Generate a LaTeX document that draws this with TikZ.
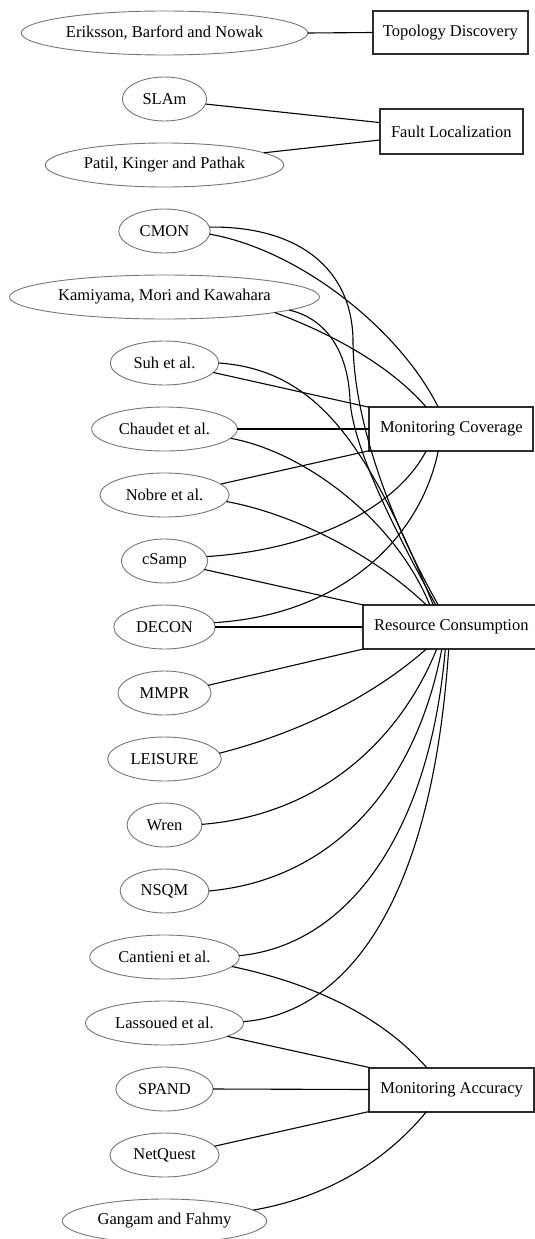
\documentclass[tikz,border=0pt]{standalone}
\usepackage{fontspec}
\setmainfont{Liberation Serif}
\usetikzlibrary{shapes.geometric}
\definecolor{ellgray}{RGB}{118,118,118}
\definecolor{boxgray}{RGB}{45,45,45}
\begin{document}
\begin{tikzpicture}[x=1pt,y=-1pt,
  lbl/.style={font=\fontsize{16.5}{19}\selectfont},
  ell/.style={ellipse, draw=ellgray, line width=0.9pt, minimum height=44pt, inner sep=0pt, outer sep=0pt, lbl},
  box/.style={rectangle, draw=boxgray, line width=2pt, minimum height=44pt, inner sep=0pt, outer sep=0pt, lbl},
  edge/.style={draw=black, line width=1.1pt}]
\useasboundingbox (0,0) rectangle (535,1239);
\clip (0,0) rectangle (535,1239);
% ellipses
\node[ell, minimum width=286.6pt] (eri) at (164.5,33) {\makebox[0pt]{Eriksson, Barford and Nowak}};
\node[ell, minimum width=84.3pt] (slam) at (164.5,99) {\makebox[0pt]{SLAm}};
\node[ell, minimum width=238.5pt] (patil) at (164.5,165) {\makebox[0pt]{Patil, Kinger and Pathak}};
\node[ell, minimum width=91.4pt] (cmon) at (164.5,231) {\makebox[0pt]{CMON}};
\node[ell, minimum width=310pt] (kam) at (164.5,297) {\makebox[0pt]{Kamiyama, Mori and Kawahara}};
\node[ell, minimum width=108.5pt] (suh) at (164.5,363) {\makebox[0pt]{Suh et al.}};
\node[ell, minimum width=145.7pt] (chau) at (164.5,429) {\makebox[0pt]{Chaudet et al.}};
\node[ell, minimum width=129.3pt] (nobre) at (164.5,495) {\makebox[0pt]{Nobre et al.}};
\node[ell, minimum width=86.3pt] (csamp) at (164.5,561) {\makebox[0pt]{cSamp}};
\node[ell, minimum width=101.3pt] (decon) at (164.5,627) {\makebox[0pt]{DECON}};
\node[ell, minimum width=93.1pt] (mmpr) at (164.5,693) {\makebox[0pt]{MMPR}};
\node[ell, minimum width=113.6pt] (leis) at (164.5,759) {\makebox[0pt]{LEISURE}};
\node[ell, minimum width=74.7pt] (wren) at (164.5,825) {\makebox[0pt]{Wren}};
\node[ell, minimum width=88.7pt] (nsqm) at (164.5,891) {\makebox[0pt]{NSQM}};
\node[ell, minimum width=149.5pt] (cant) at (164.5,957) {\makebox[0pt]{Cantieni et al.}};
\node[ell, minimum width=158pt] (lass) at (164.5,1023) {\makebox[0pt]{Lassoued et al.}};
\node[ell, minimum width=97.2pt] (spand) at (164.5,1089) {\makebox[0pt]{SPAND}};
\node[ell, minimum width=109.1pt] (netq) at (164.5,1155) {\makebox[0pt]{NetQuest}};
\node[ell, minimum width=204.4pt] (gang) at (164.5,1221) {\makebox[0pt]{Gangam and Fahmy}};
% boxes
\node[box, minimum width=155.3pt, minimum height=43.6pt] (td) at (450.3,32.5) {\makebox[0pt]{Topology Discovery}};
\node[box, minimum width=142.7pt, minimum height=44.7pt] (fl) at (451.3,131.6) {\makebox[0pt]{Fault Localization}};
\node[box, minimum width=164pt, minimum height=43.4pt] (mc) at (451.3,429) {\makebox[0pt]{Monitoring Coverage}};
\node[box, minimum width=176pt] (rc) at (451.3,627) {\makebox[0pt]{Resource Consumption}};
\node[box, minimum width=164.7pt] (ma) at (451.6,1089.5) {\makebox[0pt]{Monitoring Accuracy}};
% edges: topology / fault
\draw[edge] (eri.east) -- (td.west);
\draw[edge] (slam.-7) -- ([yshift=9pt]fl.west);
\draw[edge] (patil.7) -- ([yshift=-8.4pt]fl.west);
% monitoring coverage
\draw[edge] (cmon.-4) .. controls (300,250) and (400,330) .. ([xshift=-13pt]mc.north);
\draw[edge] (kam.-8.5) .. controls (330,333) and (390,365) .. ([xshift=-25pt]mc.north);
\draw[edge] (suh.-11) -- (mc.north west);
\draw[edge] (chau.east) -- (mc.west);
\draw[edge] (nobre.11.5) -- (mc.south west);
\draw[edge] (csamp.6) .. controls (310,550) and (395,510) .. ([xshift=-25pt]mc.south);
\draw[edge] (decon.5) .. controls (340,615) and (420,540) .. ([xshift=-13pt]mc.south);
% resource consumption
\draw[edge] (cmon.5) .. controls (300,226) and (352,270) .. (353,340) .. controls (353,420) and (390,520) .. ([xshift=-13pt]rc.north);
\draw[edge] (kam.-6) .. controls (325,318) and (348,350) .. (350,400) .. controls (353,450) and (400,540) .. ([xshift=-15.5pt]rc.north);
\draw[edge] (suh.0) .. controls (320,370) and (370,450) .. ([xshift=-18pt]rc.north);
\draw[edge] (chau.-8) .. controls (305,452) and (395,520) .. ([xshift=-21.5pt]rc.north);
\draw[edge] (nobre.-6) .. controls (300,515) and (380,560) .. ([xshift=-25pt]rc.north);
\draw[edge] (csamp.-12) -- (rc.north west);
\draw[edge] (decon.east) -- (rc.west);
\draw[edge] (mmpr.10) -- (rc.south west);
\draw[edge] (leis.6) .. controls (310,730) and (380,690) .. ([xshift=-25pt]rc.south);
\draw[edge] (wren.1) .. controls (320,815) and (400,740) .. ([xshift=-14.6pt]rc.south);
\draw[edge] (nsqm.0) .. controls (330,880) and (415,790) .. ([xshift=-9.5pt]rc.south);
\draw[edge] (cant.1.5) .. controls (350,945) and (430,830) .. ([xshift=-6pt]rc.south);
\draw[edge] (lass.1) .. controls (330,1015) and (430,930) .. ([xshift=-2.6pt]rc.south);
% monitoring accuracy
\draw[edge] (cant.-8) .. controls (320,985) and (385,1020) .. ([xshift=-25pt]ma.north);
\draw[edge] (lass.-12) -- (ma.north west);
\draw[edge] (spand.east) -- (ma.west);
\draw[edge] (netq.10) -- (ma.south west);
\draw[edge] (gang.7) .. controls (340,1195) and (395,1150) .. ([xshift=-25pt]ma.south);
\end{tikzpicture}
\end{document}
